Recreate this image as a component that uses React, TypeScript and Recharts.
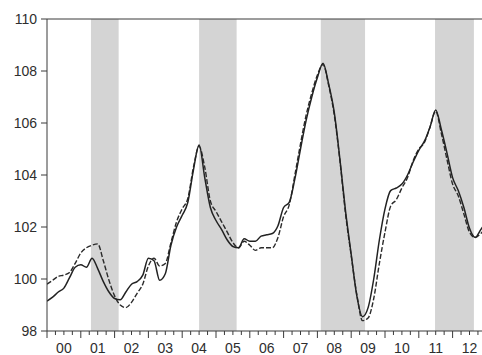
import { Line, LineChart, ReferenceArea, ReferenceLine, XAxis, YAxis } from 'recharts'

// bimonthly observations, 2000:01 .. 2013:01
const periods = Array.from({ length: 79 }, (_, k) => 2000 + k / 6)

const solid = [
  99.15, 99.3, 99.5, 99.65, 100.05, 100.45, 100.55, 100.45, 100.8, 100.4, 99.9, 99.5,
  99.25, 99.2, 99.5, 99.8, 99.9, 100.15, 100.8, 100.7, 99.95, 100.2, 101.3, 102.0,
  102.45, 102.95, 104.2, 105.15, 103.9, 102.75, 102.25, 101.9, 101.5, 101.25, 101.2, 101.55,
  101.45, 101.45, 101.65, 101.7, 101.75, 102.05, 102.75, 102.95, 103.85, 105.0, 106.1, 107.0,
  107.75, 108.3, 107.5, 106.4, 104.6, 102.6, 100.95, 99.35, 98.55, 98.9, 100.0, 101.5,
  102.7, 103.4, 103.5, 103.65, 104.0, 104.5, 104.95, 105.3, 105.85, 106.5, 105.75, 104.85,
  103.9, 103.4, 102.75, 101.95, 101.6, 101.9, 102.2,
]

const dashed = [
  99.8, 99.95, 100.1, 100.15, 100.25, 100.6, 101.0, 101.2, 101.3, 101.35, 100.7, 99.95,
  99.35, 99.0, 98.9, 99.1, 99.45, 99.8, 100.5, 100.8, 100.5, 100.6, 101.4, 102.2,
  102.7, 103.1, 104.3, 105.1, 104.3, 103.0, 102.6, 102.2, 101.8, 101.4, 101.2, 101.45,
  101.3, 101.1, 101.2, 101.2, 101.2, 101.6, 102.4, 102.85, 104.0, 105.2, 106.3, 107.15,
  107.85, 108.25, 107.45, 106.3, 104.55, 102.5, 100.9, 99.4, 98.4, 98.5, 99.25, 100.6,
  101.8, 102.8, 103.05, 103.5, 103.9, 104.55, 105.0, 105.25, 105.85, 106.45, 105.6, 104.6,
  103.65, 103.2, 102.5, 101.8, 101.6, 101.75, 102.0,
]

// shaded periods (start, end) in decimal years
const bands = [
  [2001.3, 2002.12],
  [2004.5, 2005.61],
  [2008.1, 2009.41],
  [2011.48, 2012.63],
]

const yTicks = [98, 100, 102, 104, 106, 108, 110]
const quarterTicks = Array.from({ length: 53 }, (_, i) => 2000 + i / 4)

const data = periods.map((t, i) => ({ t, solid: solid[i], dashed: dashed[i] }))

const axisColor = '#3a3a3a'
const textColor = '#2e2e2e'
const font = '"Liberation Sans", Arial, sans-serif'

function YearTick({ x, y, payload }: { x?: number; y?: number; payload?: { value: number } }) {
  const v = payload?.value ?? 0
  const isYear = Math.abs(v - Math.round(v)) < 1e-6
  const isMid = Math.abs(v - Math.floor(v) - 0.5) < 1e-6
  return (
    <g>
      <line x1={x} x2={x} y1={y} y2={(y ?? 0) + (isYear ? 7 : 4)} stroke={axisColor} strokeWidth={1} />
      {isMid && (
        <text x={x} y={(y ?? 0) + 22} textAnchor="middle" fill={textColor} fontSize={14} fontFamily={font}>
          {String(Math.floor(v) % 100).padStart(2, '0')}
        </text>
      )}
    </g>
  )
}

export default function App() {
  return (
    <div style={{ position: 'absolute', left: 0, top: 0, width: 482, height: 355, overflow: 'hidden', background: '#fff' }}>
      <LineChart width={490} height={355} data={data} margin={{ top: 19, right: 3.6, bottom: 0, left: 0 }}>
        {bands.map(([a, b]) => (
          <ReferenceArea key={a} x1={a} x2={b} y1={98} y2={110} fill="#d4d4d4" fillOpacity={1} stroke="none" ifOverflow="hidden" />
        ))}
        <XAxis
          dataKey="t"
          type="number"
          domain={[2000, 2013]}
          ticks={quarterTicks}
          interval={0}
          height={24}
          tickSize={0}
          tickMargin={0}
          tickLine={false}
          tick={<YearTick />}
          stroke={axisColor}
          allowDataOverflow
        />
        <YAxis
          type="number"
          domain={[98, 110]}
          ticks={yTicks}
          width={47}
          tickSize={6}
          tickMargin={4}
          stroke={axisColor}
          tick={{ fill: textColor, fontSize: 14, fontFamily: font }}
          allowDataOverflow
        />
        <ReferenceLine y={110} stroke={axisColor} strokeWidth={1} />
        <Line
          dataKey="dashed"
          stroke="#2a2a2a"
          strokeWidth={1.4}
          strokeDasharray="5 2"
          dot={false}
          type="monotone"
          isAnimationActive={false}
        />
        <Line dataKey="solid" stroke="#222" strokeWidth={1.5} dot={false} type="monotone" isAnimationActive={false} />
      </LineChart>
    </div>
  )
}
